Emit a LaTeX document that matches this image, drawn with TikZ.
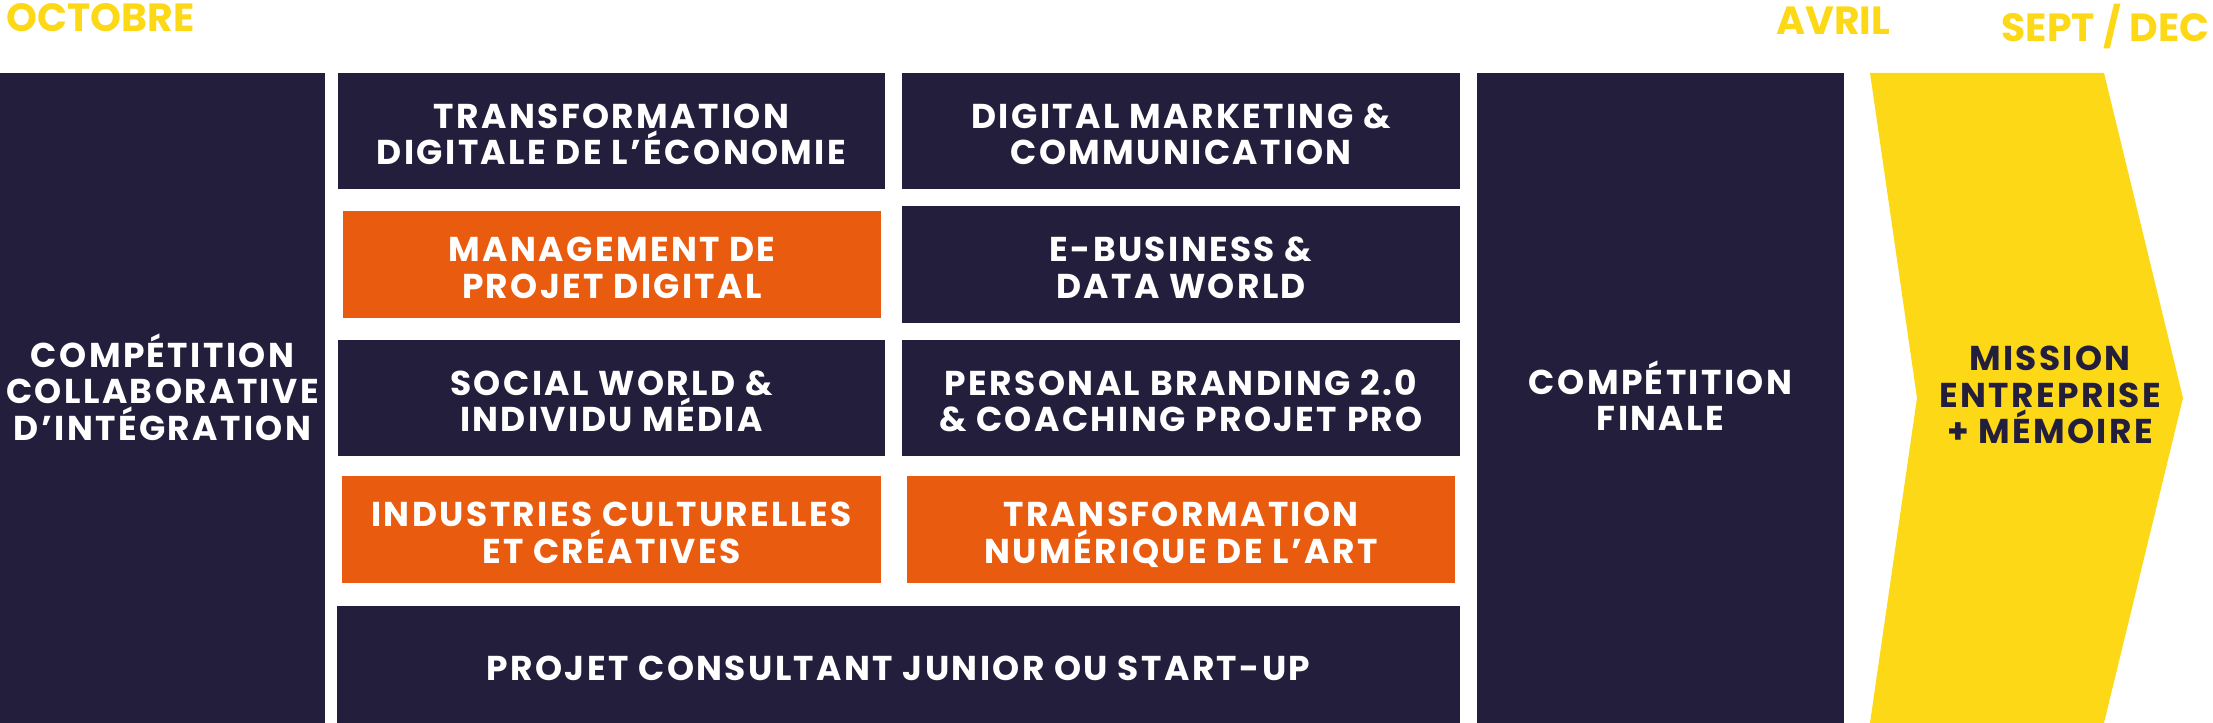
\documentclass[tikz,border=0pt]{standalone}
\usepackage{fontspec}
\newfontfamily\boxfont[LetterSpace=7]{Poppins}
\newfontfamily\headfont{Poppins}
\usetikzlibrary{positioning}
\definecolor{navy}{HTML}{221E3C}
\definecolor{orangeb}{HTML}{E95B0F}
\definecolor{yellowb}{HTML}{FDD816}
\tikzset{nlines/.store in=\nlines,textdp/.store in=\textdp}
\tikzset{basic/.style={inner sep=0pt,align=center,text=white,nlines=1,textdp=1.1pt,
    execute at begin node={\rule{0pt}{\dimexpr10.4pt*\nlines+10pt\relax}},
    execute at end node={\rule[-\textdp]{0pt}{\textdp}},
    font=\boxfont\bfseries\fontsize{9.8}{10.4}\selectfont}}
\tikzset{module/.style={basic,fill=navy,minimum height=1.16cm}}
\tikzset{special/.style={basic,fill=orangeb,minimum height=1.07cm}}
\tikzset{phase/.style={basic,fill=navy,minimum height=6.5cm}}
\tikzset{month/.style={inner sep=0pt,text=yellowb,font=\headfont\bfseries\fontsize{11.2}{12}\selectfont}}

\begin{document}
\begin{tikzpicture}
    \useasboundingbox (0,0) rectangle (22.13,7.23);

    \node[phase,minimum width=3.25cm,nlines=2,textdp=6.8pt] (integ) at (1.625,3.25) {COMPÉTITION\\COLLABORATIVE\\D’INTÉGRATION};

    \node[module,minimum width=5.47cm] (tde) at (6.115,5.92) {TRANSFORMATION\\DIGITALE DE L’ÉCONOMIE};
    \node[module,minimum width=5.58cm] (dmc) at (11.81,5.92) {DIGITAL MARKETING \&\\COMMUNICATION};
    \node[special,minimum width=5.38cm] (mpd) at (6.12,4.585) {MANAGEMENT DE\\PROJET DIGITAL};
    \node[module,minimum width=5.58cm,minimum height=1.17cm] (ebiz) at (11.81,4.585) {E-BUSINESS \&\\DATA WORLD};
    \node[module,minimum width=5.47cm] (social) at (6.115,3.25) {SOCIAL WORLD \&\\INDIVIDU MÉDIA};
    \node[module,minimum width=5.58cm] (brand) at (11.81,3.25) {PERSONAL BRANDING 2.0\\\& COACHING PROJET PRO};
    \node[special,minimum width=5.39cm] (icc) at (6.115,1.935) {INDUSTRIES CULTURELLES\\ET CRÉATIVES};
    \node[special,minimum width=5.48cm] (art) at (11.81,1.935) {TRANSFORMATION\\NUMÉRIQUE DE L’ART};
    \node[module,minimum width=11.23cm,minimum height=1.17cm,nlines=0] (junior) at (8.985,0.585) {PROJET CONSULTANT JUNIOR OU START-UP};

    \node[phase,minimum width=3.67cm,textdp=1.7pt] (finale) at (16.605,3.25) {COMPÉTITION\\FINALE};

    \fill[yellowb] (18.70,6.50) -- (21.04,6.50) -- (21.83,3.25) -- (21.04,0) -- (18.70,0) -- (19.17,3.25) -- cycle;
    \node[basic,text=navy,nlines=2,textdp=4.8pt] (mission) at (20.50,3.25) {MISSION\\ENTREPRISE\\+ MÉMOIRE};

    \node[month,anchor=base west] (oct) at (0.06,6.91) {OCTOBRE};
    \node[month,anchor=base east] (avril) at (18.91,6.88) {AVRIL};
    \node[month,anchor=base east] (sept) at (22.10,6.81) {SEPT / DEC};
\end{tikzpicture}
\end{document}
